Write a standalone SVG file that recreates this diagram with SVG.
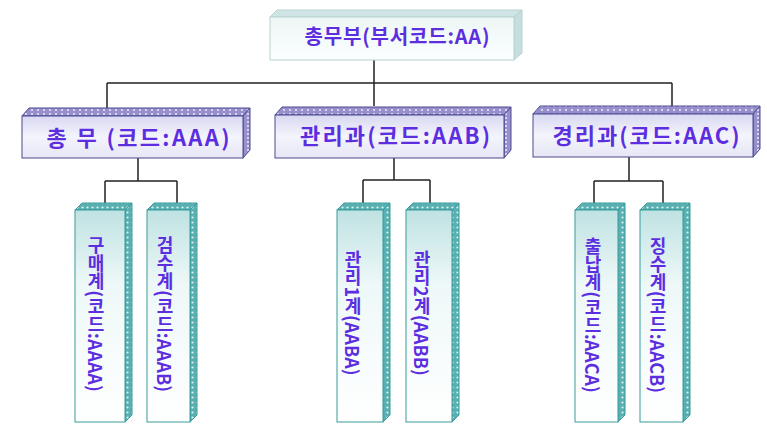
<svg xmlns="http://www.w3.org/2000/svg" width="767" height="425" viewBox="0 0 767 425">
<defs>
<style>
.t{font-family:"Noto Sans CJK KR","Noto Sans",sans-serif;font-weight:bold;fill:#5c2ee0;}
.h{font-size:22px;text-anchor:middle;}
.h0{font-size:20px;}
.v{font-size:18px;writing-mode:vertical-rl;text-anchor:middle;}
.ln{stroke:#222;stroke-width:1.5;fill:none;}
.pf{stroke:#4a4a90;stroke-width:1;}
.cf{stroke:#3a9c9c;stroke-width:1;}
.tf{stroke:#b8d2d2;stroke-width:1;}
</style>
<linearGradient id="gP" x1="0" y1="0" x2="0" y2="1">
<stop offset="0" stop-color="#d8d8f2"/><stop offset="0.5" stop-color="#f4f4fc"/><stop offset="1" stop-color="#e6e6f6"/>
</linearGradient>
<linearGradient id="gC" x1="0" y1="0" x2="0" y2="1">
<stop offset="0" stop-color="#bfe2e2"/><stop offset="0.35" stop-color="#eef8f8"/><stop offset="1" stop-color="#ffffff"/>
</linearGradient>
<linearGradient id="gT" x1="0" y1="0" x2="0" y2="1">
<stop offset="0" stop-color="#eef6f6"/><stop offset="1" stop-color="#fbfefe"/>
</linearGradient>
<pattern id="dotP" width="6" height="4" patternUnits="userSpaceOnUse">
<rect width="6" height="4" fill="#9890cc"/><circle cx="2" cy="2" r="1" fill="#ecebf9"/>
</pattern>
<pattern id="dotC" width="5" height="5" patternUnits="userSpaceOnUse">
<rect width="5" height="5" fill="#58b0b0"/><circle cx="2.5" cy="2.5" r="1.1" fill="#dff2f2"/>
</pattern>
</defs>
<rect width="767" height="425" fill="#ffffff"/>

<g id="connectors">
<path class="ln" d="M374 60V83M107 83H672M107 83V108M374 83V106M672 83V106"/>
<path class="ln" d="M138 158V181M105 181H177M105 181V203M177 181V203"/>
<path class="ln" d="M394 158V180M363 180H430M363 180V203M430 180V203"/>
<path class="ln" d="M629 157V181M594 181H663M594 181V203M663 181V203"/>
</g>

<g id="n-top">
<polygon class="tf" points="270,17 277,10 522,10 514,17" fill="#cfe5e5"/>
<polygon class="tf" points="514,17 522,10 522,53 514,60" fill="#c6dede"/>
<rect class="tf" x="270" y="17" width="244" height="43" fill="url(#gT)"/>
<text class="t h h0" x="397" y="44" textLength="185" lengthAdjust="spacing">총무부(부서코드:AA)</text>
</g>

<g id="n-aaa">
<polygon class="pf" points="22,116 29,108 250,108 243,116" fill="url(#dotP)"/>
<polygon class="pf" points="243,116 250,108 250,150 243,158" fill="url(#dotP)"/>
<rect class="pf" x="22" y="116" width="221" height="42" fill="url(#gP)"/>
<text class="t h" x="138" y="146" textLength="183" lengthAdjust="spacing">총 무 (코드:AAA)</text>
</g>

<g id="n-aab">
<polygon class="pf" points="275,115 282,107 511,107 504,115" fill="url(#dotP)"/>
<polygon class="pf" points="504,115 511,107 511,150 504,158" fill="url(#dotP)"/>
<rect class="pf" x="275" y="115" width="229" height="43" fill="url(#gP)"/>
<text class="t h" x="395" y="144" textLength="190" lengthAdjust="spacing">관리과(코드:AAB)</text>
</g>

<g id="n-aac">
<polygon class="pf" points="533,114 540,106 760,106 753,114" fill="url(#dotP)"/>
<polygon class="pf" points="753,114 760,106 760,149 753,157" fill="url(#dotP)"/>
<rect class="pf" x="533" y="114" width="220" height="43" fill="url(#gP)"/>
<text class="t h" x="646" y="144" textLength="187" lengthAdjust="spacing">경리과(코드:AAC)</text>
</g>

<g id="n-aaaa">
<polygon class="cf" points="75,210 82,203 132,203 125,210" fill="url(#dotC)"/>
<polygon class="cf" points="125,210 132,203 132,415 125,422" fill="url(#dotC)"/>
<rect class="cf" x="75" y="210" width="50" height="212" fill="url(#gC)"/>
<text class="t v" x="96" y="314">구매계(코드:AAAA)</text>
</g>

<g id="n-aaab">
<polygon class="cf" points="147,210 154,203 197,203 190,210" fill="url(#dotC)"/>
<polygon class="cf" points="190,210 197,203 197,415 190,422" fill="url(#dotC)"/>
<rect class="cf" x="147" y="210" width="43" height="212" fill="url(#gC)"/>
<text class="t v" x="165" y="314">검수계(코드:AAAB)</text>
</g>

<g id="n-aaba">
<polygon class="cf" points="337,210 344,203 390,203 383,210" fill="url(#dotC)"/>
<polygon class="cf" points="383,210 390,203 390,415 383,422" fill="url(#dotC)"/>
<rect class="cf" x="337" y="210" width="46" height="212" fill="url(#gC)"/>
<text class="t v" x="353" y="313">관리1계(AABA)</text>
</g>

<g id="n-aabb">
<polygon class="cf" points="406,210 413,203 459,203 452,210" fill="url(#dotC)"/>
<polygon class="cf" points="452,210 459,203 459,415 452,422" fill="url(#dotC)"/>
<rect class="cf" x="406" y="210" width="46" height="212" fill="url(#gC)"/>
<text class="t v" x="422" y="313">관리2계(AABB)</text>
</g>

<g id="n-aaca">
<polygon class="cf" points="575,210 582,203 625,203 618,210" fill="url(#dotC)"/>
<polygon class="cf" points="618,210 625,203 625,415 618,422" fill="url(#dotC)"/>
<rect class="cf" x="575" y="210" width="43" height="212" fill="url(#gC)"/>
<text class="t v" x="593" y="315">출납계(코드:AACA)</text>
</g>

<g id="n-aacb">
<polygon class="cf" points="640,210 647,203 690,203 683,210" fill="url(#dotC)"/>
<polygon class="cf" points="683,210 690,203 690,415 683,422" fill="url(#dotC)"/>
<rect class="cf" x="640" y="210" width="43" height="212" fill="url(#gC)"/>
<text class="t v" x="658" y="315">징수계(코드:AACB)</text>
</g>
</svg>
